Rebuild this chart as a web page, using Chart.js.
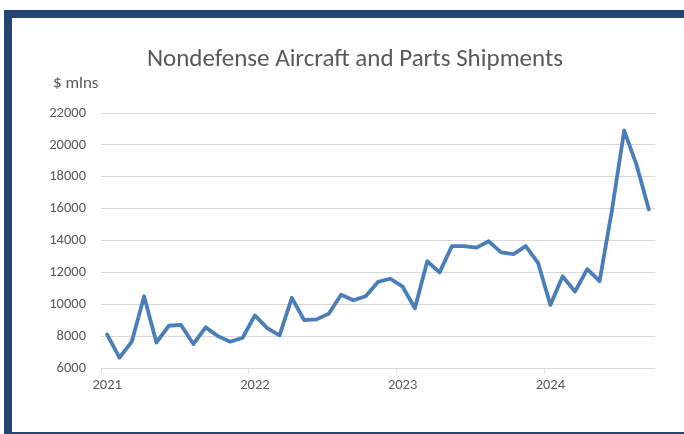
<!DOCTYPE html>
<html>
<head>
<meta charset="utf-8">
<script src="https://cdn.jsdelivr.net/npm/chart.js@4.4.1/dist/chart.umd.min.js"></script>
<style>
  html, body { margin: 0; padding: 0; background: #ffffff; overflow: hidden; }
  #wrap { position: relative; width: 684px; height: 434px; overflow: hidden; background: #ffffff; }
  #frame { position: absolute; left: 4px; top: 10px; width: 720px; height: 414px; border: 8px solid #24466E; pointer-events: none; }
  canvas { position: absolute; left: 0; top: 0; }
</style>
</head>
<body>
<div id="wrap">
  <canvas id="c" width="684" height="434"></canvas>
  <div id="frame"></div>
</div>
<script>
const chartTitle = 'Nondefense Aircraft and Parts Shipments';
const unitLabel = '$ mlns';

const months = [
  '2021-01','2021-02','2021-03','2021-04','2021-05','2021-06','2021-07','2021-08','2021-09','2021-10','2021-11','2021-12',
  '2022-01','2022-02','2022-03','2022-04','2022-05','2022-06','2022-07','2022-08','2022-09','2022-10','2022-11','2022-12',
  '2023-01','2023-02','2023-03','2023-04','2023-05','2023-06','2023-07','2023-08','2023-09','2023-10','2023-11','2023-12',
  '2024-01','2024-02','2024-03','2024-04','2024-05','2024-06','2024-07','2024-08','2024-09'
];

const shipments = [
  8100, 6650, 7650, 10500, 7600, 8650, 8700, 7500, 8550, 8000, 7650, 7900,
  9300, 8500, 8050, 10400, 9000, 9050, 9400, 10600, 10250, 10500, 11400, 11600,
  11100, 9750, 12700, 12000, 13650, 13650, 13550, 13950, 13250, 13150, 13650, 12600,
  9950, 11750, 10800, 12200, 11450, 15900, 20900, 18750, 15950
];

const yTicks = [6000, 8000, 10000, 12000, 14000, 16000, 18000, 20000, 22000];

const FONT = "Carlito, Lato, 'Open Sans', sans-serif";
const TEXT = '#595959';
const GRID = '#D9D9D9';

const textPlugin = {
  id: 'texts',
  afterDraw(chart) {
    const ctx = chart.ctx;
    ctx.save();
    ctx.fillStyle = TEXT;
    ctx.textBaseline = 'middle';
    ctx.textAlign = 'center';
    ctx.font = "25px " + FONT;
    ctx.fillText(chartTitle, 355, 60);
    ctx.textAlign = 'left';
    ctx.font = "17px " + FONT;
    ctx.fillText(unitLabel, 53, 84);
    ctx.restore();
  }
};

new Chart(document.getElementById('c'), {
  type: 'line',
  data: {
    labels: months,
    datasets: [{
      data: shipments,
      borderColor: '#4A7EBB',
      borderWidth: 3.8,
      pointRadius: 0,
      tension: 0,
      fill: false,
      borderJoinStyle: 'round',
      borderCapStyle: 'round'
    }]
  },
  options: {
    responsive: false,
    animation: false,
    devicePixelRatio: 1,
    layout: { padding: { left: 0, right: 29, top: 113, bottom: 0 } },
    plugins: { legend: { display: false }, tooltip: { enabled: false }, title: { display: false } },
    scales: {
      x: {
        type: 'category',
        offset: true,
        afterFit(scale) { scale.height = 66; },
        grid: {
          offset: true,
          drawOnChartArea: false,
          drawTicks: true,
          tickLength: 5,
          color(ctx) {
            const l = months[ctx.index];
            return (l && l.endsWith('-01')) ? GRID : 'rgba(0,0,0,0)';
          }
        },
        border: { display: false },
        ticks: {
          autoSkip: false,
          maxRotation: 0,
          minRotation: 0,
          padding: 4,
          color: TEXT,
          font: { family: FONT, size: 14.5 },
          callback(v, i) {
            const l = months[i];
            return l.endsWith('-01') ? l.slice(0, 4) : '';
          }
        }
      },
      y: {
        min: 6000,
        max: 22000,
        afterFit(scale) { scale.width = 101; },
        afterBuildTicks(scale) { scale.ticks = yTicks.map(v => ({ value: v })); },
        grid: { color: GRID, lineWidth: 1, drawTicks: false },
        border: { display: false },
        ticks: {
          padding: 15,
          color: TEXT,
          font: { family: FONT, size: 14.5 },
          callback(v) { return String(v); }
        }
      }
    }
  },
  plugins: [textPlugin]
});
</script>
</body>
</html>
